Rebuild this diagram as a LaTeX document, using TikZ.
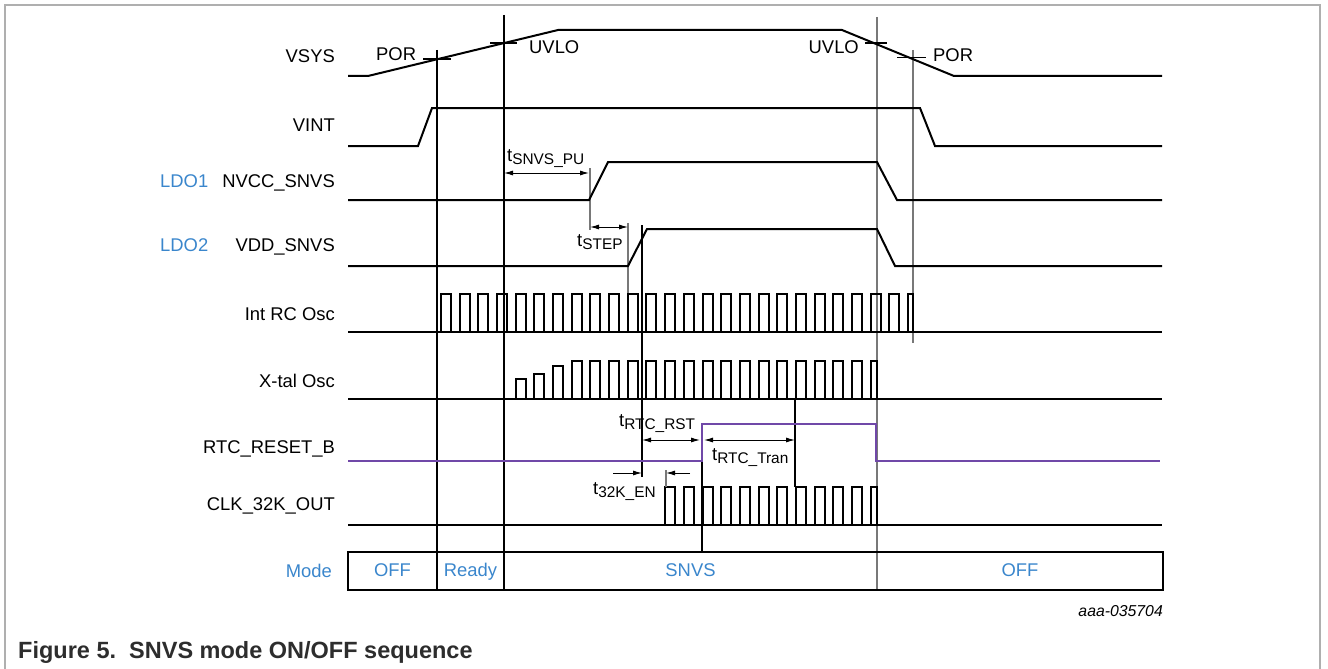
\documentclass[tikz,border=0pt]{standalone}
\usepackage{fontspec}
\setmainfont{Liberation Sans}
\usetikzlibrary{arrows.meta}
\definecolor{modeblue}{RGB}{58,134,204}
\definecolor{rstpurple}{RGB}{112,72,168}
\definecolor{framegray}{RGB}{175,175,175}
\definecolor{markgray}{RGB}{120,120,120}
\definecolor{capgray}{RGB}{45,45,45}
\newcommand\lblf{\fontsize{18.4}{20}\selectfont}
\newcommand\subf{\fontsize{15.4}{16}\selectfont}
\newcommand\tlab[1]{t\raisebox{-3pt}{\subf #1}}
\begin{document}
\begin{tikzpicture}[x=1pt,y=-1pt,
  sig/.style={line width=2pt,line join=miter},
  rst/.style={line width=2pt,rstpurple,line join=miter},
  vline/.style={line width=1.1pt},
  vlineg/.style={line width=1.1pt,markgray},
  vlinegg/.style={line width=1.8pt,markgray},
  tickln/.style={line width=1.1pt},
  dim/.style={line width=1pt,{Latex[length=9pt,width=5pt]}-{Latex[length=9pt,width=5pt]}},
  dimr/.style={line width=1pt,-{Latex[length=9pt,width=5pt]}},
  lbl/.style={font=\lblf,inner sep=0pt,anchor=base east},
  tl/.style={font=\lblf,inner sep=0pt,anchor=base west},
  modet/.style={font=\lblf,inner sep=0pt,anchor=base,text=modeblue}]
\useasboundingbox (0,0) rectangle (1328,669);
% frame
\draw[framegray,line width=1.8pt] (5,669) -- (5,5) -- (1320,5) -- (1320,669);
% signal labels
\node[lbl] (lvsys) at (335,63) {VSYS};
\node[lbl] (lvint) at (335,131.5) {VINT};
\node[lbl] (lnvcc) at (335,187) {NVCC\_SNVS};
\node[lbl,text=modeblue,anchor=base west] (lldo1) at (160,187) {LDO1};
\node[lbl] (lvdd) at (335,251) {VDD\_SNVS};
\node[lbl,text=modeblue,anchor=base west] (lldo2) at (160,251) {LDO2};
\node[lbl] (lrc) at (335,320) {Int RC Osc};
\node[lbl] (lxtal) at (335,387) {X-tal Osc};
\node[lbl] (lrst) at (335,453) {RTC\_RESET\_B};
\node[lbl] (lclk) at (335,510.5) {CLK\_32K\_OUT};
\node[lbl,text=modeblue] (lmode) at (332,577) {Mode};
% vertical markers
\draw[vline] (437,50) -- (437,590);
\draw[vline] (504,15) -- (504,590);
\draw[vlinegg] (877,17) -- (877,590);
\draw[vlinegg] (913,50) -- (913,343);
\draw[vlineg] (590,168) -- (590,230);
\draw[vlineg] (628,223) -- (628,293);
\draw[vline] (642,225) -- (642,477);
\draw[vline] (702,424) -- (702,552);
\draw[vline] (795,399) -- (795,487);
% VSYS
\draw[sig] (348,76) -- (368,76) -- (558,30) -- (842,30) -- (954,76) -- (1162,76);
\draw[tickln] (423,59) -- (451,59);
\draw[tickln] (490,43) -- (517,43);
\draw[tickln] (865,43) -- (887,43);
\draw[tickln] (897,57.5) -- (926,57.5);
\node[tl] (por1) at (376,61) {POR};
\node[tl] (uvlo1) at (529,54) {UVLO};
\node[lbl] (uvlo2) at (859,53.5) {UVLO};
\node[tl] (por2) at (933,61.5) {POR};
% VINT
\draw[sig] (348,146) -- (418,146) -- (432,108) -- (920,108) -- (935,146) -- (1162,146);
% NVCC_SNVS
\draw[sig] (348,200) -- (589,200) -- (608,162) -- (877,162) -- (897,200) -- (1162,200);
% VDD_SNVS
\draw[sig] (348,266) -- (628,266) -- (647,229) -- (877,229) -- (895,266) -- (1162,266);
% Int RC Osc
\draw[sig] (348,332) -- (1162,332);
\foreach \k in {0,...,25}{
  \pgfmathsetmacro\rx{441+18.68*\k}
  \pgfmathsetmacro\fx{min(\rx+10,913)}
  \draw[sig] (\rx,332) -- (\rx,294) -- (\fx,294) -- (\fx,332);
}
% X-tal Osc
\draw[sig] (348,399) -- (1162,399);
\foreach \k/\h in {4/379,5/374,6/366}{
  \pgfmathsetmacro\rx{441+18.68*\k}
  \pgfmathsetmacro\fx{\rx+10}
  \draw[sig] (\rx,399) -- (\rx,\h) -- (\fx,\h) -- (\fx,399);
}
\foreach \k in {7,...,23}{
  \pgfmathsetmacro\rx{441+18.68*\k}
  \pgfmathsetmacro\fx{min(\rx+10,877)}
  \draw[sig] (\rx,399) -- (\rx,361) -- (\fx,361) -- (\fx,399);
}
% RTC_RESET_B
\draw[rst] (348,461) -- (702,461) -- (702,424) -- (876,424) -- (876,461) -- (1160,461);
% CLK_32K_OUT
\draw[sig] (348,525) -- (1162,525);
\foreach \k in {12,...,23}{
  \pgfmathsetmacro\rx{441+18.68*\k}
  \pgfmathsetmacro\fx{min(\rx+10,877)}
  \draw[sig] (\rx,525) -- (\rx,487) -- (\fx,487) -- (\fx,525);
}
% timing dimensions
\coordinate (pu1) at (504,173);
\coordinate (pu2) at (589,173);
\draw[dim] (pu1) -- (pu2);
\node[tl] (tpu) at (507,161) {\tlab{SNVS\_PU}};
\coordinate (st1) at (590,227);
\coordinate (st2) at (628,227);
\draw[dim] (st1) -- (st2);
\node[tl] (tstep) at (577,246) {\tlab{STEP}};
\coordinate (rr1) at (642,440);
\coordinate (rr2) at (700,440);
\draw[dim] (rr1) -- (rr2);
\node[tl] (trst) at (619,426) {\tlab{RTC\_RST}};
\coordinate (rt1) at (704,440);
\coordinate (rt2) at (795,440);
\draw[dim] (rt1) -- (rt2);
\node[tl] (ttran) at (712,460) {\tlab{RTC\_Tran}};
\coordinate (en0) at (613,473);
\coordinate (en1) at (642,473);
\coordinate (en2) at (666,473);
\coordinate (en3) at (690,473);
\draw[dimr] (en0) -- (en1);
\draw[dimr] (en3) -- (en2);
\draw[vlineg] (666,470) -- (666,487);
\node[tl] (ten) at (593,494) {\tlab{32K\_EN}};
% mode bar
\draw[line width=2pt] (348,552) rectangle (1163,590);
\node[modet] (m1) at (392.5,576) {OFF};
\node[modet] (m2) at (470.5,576) {Ready};
\node[modet] (m3) at (690.5,576) {SNVS};
\node[modet] (m4) at (1020,576) {OFF};
% ids and caption
\node[font=\fontsize{15.8}{17}\selectfont\itshape,inner sep=0pt,anchor=base east] (fid) at (1163,616) {aaa-035704};
\node[font=\fontsize{23.5}{25}\selectfont\bfseries,text=capgray,inner sep=0pt,anchor=base west] (cap) at (18,658) {Figure 5.\ \ SNVS mode ON/OFF sequence};
\end{tikzpicture}
\end{document}
